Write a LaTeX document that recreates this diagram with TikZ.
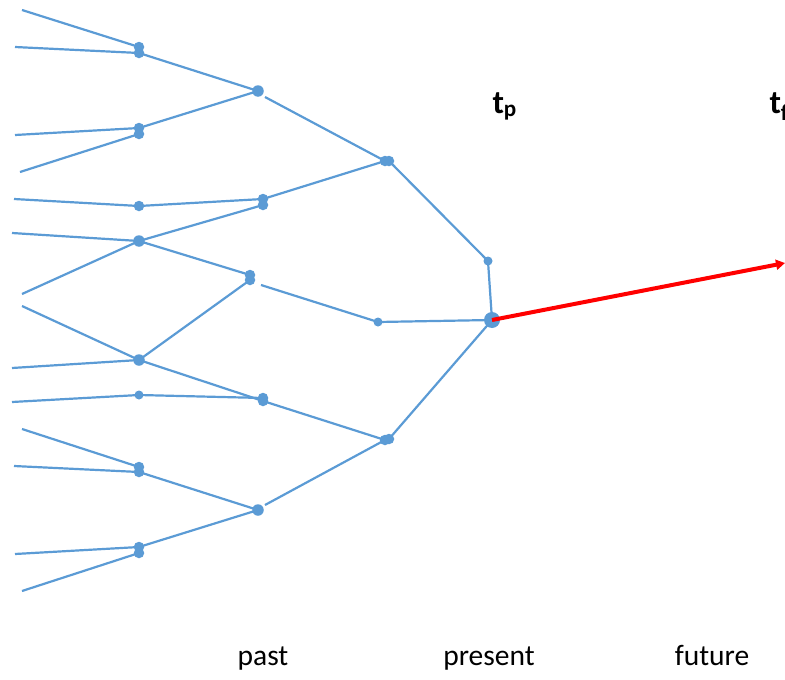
\documentclass[tikz,border=0pt]{standalone}
\usepackage{fontspec}
\setmainfont{Carlito}
\usetikzlibrary{arrows.meta}
\definecolor{treeblue}{HTML}{5B9BD5}
\definecolor{arrowred}{HTML}{FF0000}
\begin{document}
\begin{tikzpicture}[x=1pt,y=-1pt,
  dot/.style={circle,fill=treeblue,inner sep=0pt,minimum size=10.5pt},
  bigdot/.style={circle,fill=treeblue,inner sep=0pt,minimum size=16pt},
  branch/.style={draw=treeblue,line width=2.2pt},
  lbl/.style={font=\fontsize{29.5}{35}\selectfont,anchor=base},
  tlbl/.style={anchor=base west,font=\fontsize{33}{38}\selectfont\bfseries}]
\useasboundingbox (0,0) rectangle (785,680);
% dots
\node[dot] (A1) at (139,47) {};
\node[dot] (A2) at (139,53) {};
\node[dot,minimum size=11.5pt] (B1) at (258,91) {};
\node[dot] (A3) at (139,128) {};
\node[dot] (A4) at (139,134) {};
\node[dot] (A5) at (139,206) {};
\node[dot] (B2) at (263,199) {};
\node[dot] (B3) at (263,205) {};
\node[dot] (C1) at (385,161) {};
\node[dot] (C1b) at (389,161) {};
\node[dot,minimum size=9pt] (D1) at (488,261) {};
\node[bigdot] (P) at (492,320) {};
\node[dot,minimum size=11.5pt] (A6) at (139,241) {};
\node[dot] (B4) at (250,275) {};
\node[dot] (B4b) at (250,280) {};
\node[dot,minimum size=11.5pt] (A7) at (139,360) {};
\node[dot,minimum size=9pt] (C2) at (378,322) {};
\node[dot,minimum size=9pt] (A8) at (139,395) {};
\node[dot] (B5) at (263,401) {};
\node[dot] (B5b) at (263,398) {};
\node[dot] (C3) at (385,440) {};
\node[dot] (C3b) at (389,439) {};
\node[dot] (A9) at (139,467) {};
\node[dot] (A10) at (139,472) {};
\node[dot,minimum size=11.5pt] (B6) at (258,510) {};
\node[dot] (A11) at (139,547) {};
\node[dot] (A12) at (139,553) {};
% loose ends
\coordinate (l1) at (22,10);
\coordinate (l2) at (15,47);
\coordinate (l3) at (15,135);
\coordinate (l4) at (20,172);
\coordinate (l5) at (14,199);
\coordinate (l6) at (12,233);
\coordinate (l7) at (22,294);
\coordinate (l8) at (22,306);
\coordinate (l9) at (12,368);
\coordinate (l10) at (12,402);
\coordinate (l11) at (22,429);
\coordinate (l12) at (14,466);
\coordinate (l13) at (15,554);
\coordinate (l14) at (22,591);
\coordinate (g1) at (265,97);
\coordinate (g2) at (261,285);
\coordinate (g3) at (265,505);
\coordinate (F) at (785,263);
% branches
\draw[branch] (l1) -- (A1.center);
\draw[branch] (l2) -- (A2.center);
\draw[branch] (A2.center) -- (B1.center);
\draw[branch] (l3) -- (A3.center);
\draw[branch] (l4) -- (A4.center);
\draw[branch] (A3.center) -- (B1.center);
\draw[branch] (g1) -- (C1.center);
\draw[branch] (l5) -- (A5.center);
\draw[branch] (A5.center) -- (B2.center);
\draw[branch] (B2.center) -- (C1.center);
\draw[branch] (A6.center) -- (B3.center);
\draw[branch] (C1b.center) -- (D1.center);
\draw[branch] (D1.center) -- (P.center);
\draw[branch] (l6) -- (A6.center);
\draw[branch] (l7) -- (A6.center);
\draw[branch] (A6.center) -- (B4.center);
\draw[branch] (l8) -- (A7.center);
\draw[branch] (l9) -- (A7.center);
\draw[branch] (A7.center) -- (B4b.center);
\draw[branch] (g2) -- (C2.center);
\draw[branch] (C2.center) -- (P.center);
\draw[branch] (A7.center) -- (B5.center);
\draw[branch] (l10) -- (A8.center);
\draw[branch] (A8.center) -- (B5b.center);
\draw[branch] (B5.center) -- (C3.center);
\draw[branch] (C3b.center) -- (P.center);
\draw[branch] (l11) -- (A9.center);
\draw[branch] (l12) -- (A10.center);
\draw[branch] (A10.center) -- (B6.center);
\draw[branch] (g3) -- (C3.center);
\draw[branch] (l13) -- (A11.center);
\draw[branch] (l14) -- (A12.center);
\draw[branch] (A11.center) -- (B6.center);
% red arrow
\draw[arrowred,line width=4pt,-{Triangle[length=9pt,width=10pt]}] (P.center) -- (F);
% labels
\node[tlbl] (tp) at (489,113) {t\textsubscript{p}};
\node[tlbl] (tf) at (766,113) {t\textsubscript{f}};
\node[lbl] (past) at (263,665) {past};
\node[lbl] (present) at (489,665) {present};
\node[lbl] (future) at (712,665) {future};
\end{tikzpicture}
\end{document}
